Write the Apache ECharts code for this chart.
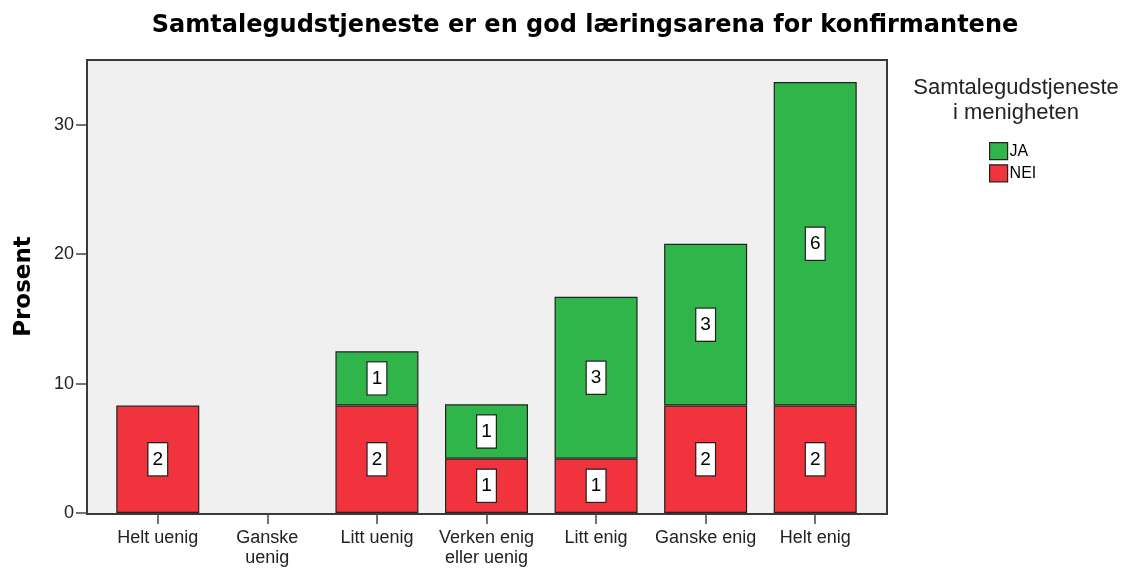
<!DOCTYPE html>
<html>
<head>
<meta charset="utf-8">
<script src="https://cdn.jsdelivr.net/npm/echarts@6/dist/echarts.min.js"></script>
<style>
  html, body { margin: 0; padding: 0; background: #fff; }
  #chart { width: 1125px; height: 568px; }
</style>
</head>
<body>
<div id="chart"></div>
<script>
// svarkategorier
const categories = ['Helt uenig', 'Ganske\nuenig', 'Litt uenig', 'Verken enig\neller uenig', 'Litt enig', 'Ganske enig', 'Helt enig'];

// prosent (lest av figuren) og antall (etiketter)
const neiPct = [8.3, 0, 8.3, 4.2, 4.2, 8.3, 8.3];
const jaPct = [0, 0, 4.2, 4.2, 12.5, 12.5, 25.0];
const neiCount = [2, 0, 2, 1, 1, 2, 2];
const jaCount = [0, 0, 1, 1, 3, 3, 6];

const yTicks = [0, 10, 20, 30];

const chart = echarts.init(document.getElementById('chart'), null, { renderer: 'canvas' });

function toData(pct, cnt) {
  const out = [];
  for (let i = 0; i < pct.length; i++) {
    if (pct[i] === 0) out.push('-');
    else out.push({ value: pct[i], count: cnt[i] });
  }
  return out;
}

const barLabel = {
  show: true,
  position: 'inside',
  formatter: function (p) { return p.data.count; },
  backgroundColor: '#fff',
  borderColor: '#222',
  borderWidth: 1.2,
  padding: [6, 4, 5, 4],
  color: '#000',
  fontFamily: 'Liberation Sans',
  fontSize: 19,
  lineHeight: 21
};

const option = {
  animation: false,
  textStyle: { fontFamily: 'Liberation Sans' },
  title: [{
    text: 'Samtalegudstjeneste er en god læringsarena for konfirmantene',
    left: 580,
    textAlign: 'center',
    top: 9,
    textStyle: { fontSize: 24, fontWeight: 'bold', color: '#000', fontFamily: 'DejaVu Sans' }
  }, {
    text: 'Samtalegudstjeneste\ni menigheten',
    left: 1011,
    textAlign: 'center',
    top: 70,
    textStyle: { fontSize: 22, fontWeight: 'normal', color: '#222', lineHeight: 25, fontFamily: 'Liberation Sans' }
  }],
  legend: {
    data: ['JA', 'NEI'],
    orient: 'vertical',
    left: 984,
    top: 137,
    itemWidth: 18,
    itemHeight: 17,
    itemGap: 4,
    icon: 'rect',
    textStyle: { fontSize: 16, color: '#000', padding: [0, 0, 0, -3] },
    itemStyle: { borderColor: '#222', borderWidth: 1.2 }
  },
  graphic: [{
    type: 'rect',
    z: -10,
    shape: { x: 87, y: 60, width: 800, height: 454 },
    style: { fill: '#f0f0f0', stroke: '#3a3a3a', lineWidth: 2 }
  }],
  grid: { left: 103, right: 255, top: 60, bottom: 54 },
  xAxis: {
    type: 'category',
    data: categories,
    axisLine: { show: false },
    axisTick: { show: true, alignWithLabel: true, length: 11, lineStyle: { color: '#444', width: 1.5 } },
    axisLabel: { fontSize: 18, color: '#222', lineHeight: 20, margin: 15, interval: 0 }
  },
  yAxis: {
    type: 'value',
    min: 0,
    max: 35,
    interval: 10,
    offset: 16,
    name: 'Prosent',
    nameLocation: 'middle',
    nameGap: 51,
    nameTextStyle: { fontSize: 23, fontWeight: 'bold', color: '#000', fontFamily: 'DejaVu Sans' },
    axisLine: { show: false },
    axisTick: { show: true, length: 11, customValues: yTicks, lineStyle: { color: '#444', width: 1.5 } },
    splitLine: { show: false },
    axisLabel: { fontSize: 18, color: '#222', margin: 13, customValues: yTicks }
  },
  series: [{
    name: 'NEI',
    type: 'bar',
    stack: 'total',
    barWidth: 83,
    data: toData(neiPct, neiCount),
    itemStyle: { color: '#f0333c', borderColor: '#222', borderWidth: 1.2 },
    label: barLabel
  }, {
    name: 'JA',
    type: 'bar',
    stack: 'total',
    barWidth: 83,
    data: toData(jaPct, jaCount),
    itemStyle: { color: '#2fb54a', borderColor: '#222', borderWidth: 1.2 },
    label: barLabel
  }]
};

chart.setOption(option);
</script>
</body>
</html>
